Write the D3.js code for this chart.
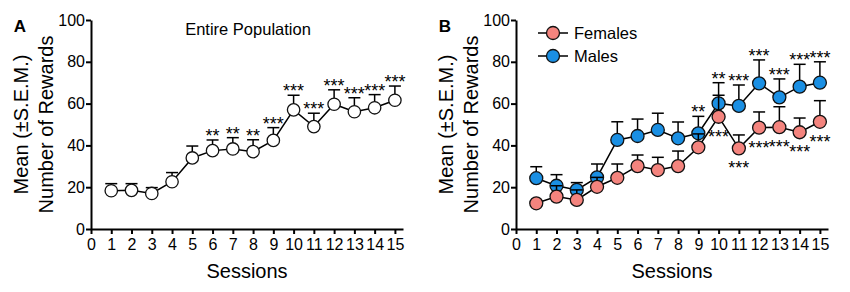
<!DOCTYPE html>
<html>
<head>
<meta charset="utf-8">
<script src="https://cdn.jsdelivr.net/npm/d3@7"></script>
<style>
  body { margin: 0; background: #fff; }
  svg { font-family: "Liberation Sans", Arial, sans-serif; }
  .axis path, .axis line { stroke: #000; stroke-width: 2; }
  .axis text { font-size: 16px; fill: #000; }
</style>
</head>
<body>
<svg id="chart" width="850" height="292"></svg>
<script>
// --- datos ---
const sessions = d3.range(1, 16);
const xTicks = d3.range(0, 16);
const yTicks = [0, 20, 40, 60, 80, 100];

// Panel A: toda la poblacion
const popMean = [18.3, 18.5, 17.0, 22.6, 34.0, 37.5, 38.3, 37.0, 42.4, 57.0, 49.0, 59.7, 56.1, 58.0, 61.6];
const popSem  = [3.4, 3.2, 2.8, 4.4, 5.7, 5.1, 5.4, 5.7, 6.1, 7.0, 6.4, 6.9, 6.7, 6.3, 6.8];
const popStars = ["", "", "", "", "", "**", "**", "**", "***", "***", "***", "***", "***", "***", "***"];

// Panel B: hembras y machos
const femMean = [12.3, 15.5, 13.9, 20.2, 24.5, 30.1, 28.2, 30.1, 39.1, 53.7, 38.6, 48.5, 48.7, 46.3, 51.3];
const femSem  = [1.2, 5.2, 4.8, 4.5, 6.6, 5.3, 6.1, 7.2, 6.4, 10.3, 6.4, 7.5, 9.8, 6.8, 10.1];
const femStars = ["", "", "", "", "", "", "", "", "", "***", "***", "***", "***", "***", "***"];

const maleMean = [24.3, 20.7, 18.7, 24.7, 42.6, 44.5, 47.4, 43.4, 45.8, 60.1, 58.9, 69.7, 63.0, 68.1, 70.0];
const maleSem  = [5.5, 5.3, 3.5, 6.4, 8.7, 8.1, 8.0, 7.8, 8.1, 9.9, 10.0, 11.2, 8.8, 10.7, 10.0];
const maleStars = ["", "", "", "", "", "", "", "", "**", "**", "***", "***", "***", "***", "***"];

const legendNames = ["Females", "Males"];
const femColor = "#f4847e";
const maleColor = "#1a8fe3";

const svg = d3.select("#chart");

function drawPanel(offsetX, letter) {
    const g = svg.append("g").attr("transform", `translate(${offsetX},0)`);

    const x = d3.scaleLinear().domain([0, 15.4]).range([91, 403]);
    const y = d3.scaleLinear().domain([0, 100]).range([229, 20]);

    // Eje X
    g.append("g")
        .attr("class", "axis")
        .attr("transform", `translate(0,${y(0)})`)
        .call(d3.axisBottom(x).tickValues(xTicks).tickSize(5).tickSizeOuter(0).tickPadding(5));

    // Eje Y
    g.append("g")
        .attr("class", "axis")
        .attr("transform", `translate(${x(0)},0)`)
        .call(d3.axisLeft(y).tickValues(yTicks).tickSize(5).tickSizeOuter(0).tickPadding(1));

    // titulos de ejes
    g.append("text")
        .attr("x", (x(0) + x(15.4)) / 2)
        .attr("y", 278)
        .attr("text-anchor", "middle")
        .style("font-size", "20px")
        .text("Sessions");

    const yMid = (y(0) + y(100)) / 2;
    g.append("text")
        .attr("transform", `translate(28,${yMid}) rotate(-90)`)
        .attr("text-anchor", "middle")
        .style("font-size", "20px")
        .text("Mean (±S.E.M.)");
    g.append("text")
        .attr("transform", `translate(53,${yMid}) rotate(-90)`)
        .attr("text-anchor", "middle")
        .style("font-size", "20px")
        .text("Number of Rewards");

    g.append("text")
        .attr("x", 20)
        .attr("y", 32)
        .attr("text-anchor", "middle")
        .style("font-size", "17px")
        .style("font-weight", "bold")
        .text(letter);

    return { g, x, y };
}

function drawSeries(p, means, sems, fill, r) {
    const pts = sessions.map((s, i) => ({ s, m: means[i], e: sems[i] }));

    // linea
    p.g.append("path")
        .datum(pts)
        .attr("fill", "none")
        .attr("stroke", "#000")
        .attr("stroke-width", 1.5)
        .attr("d", d3.line().x(d => p.x(d.s)).y(d => p.y(d.m)));

    // barras de error (solo hacia arriba)
    const eb = p.g.append("g").attr("stroke", "#000").attr("stroke-width", 1.5);
    eb.selectAll(".ev")
        .data(pts)
        .enter()
        .append("line")
        .attr("x1", d => p.x(d.s))
        .attr("x2", d => p.x(d.s))
        .attr("y1", d => p.y(d.m))
        .attr("y2", d => p.y(d.m + d.e));
    eb.selectAll(".ec")
        .data(pts)
        .enter()
        .append("line")
        .attr("x1", d => p.x(d.s) - 6)
        .attr("x2", d => p.x(d.s) + 6)
        .attr("y1", d => p.y(d.m + d.e))
        .attr("y2", d => p.y(d.m + d.e));

    // puntos
    p.g.selectAll(null)
        .data(pts)
        .enter()
        .append("circle")
        .attr("cx", d => p.x(d.s))
        .attr("cy", d => p.y(d.m))
        .attr("r", r)
        .attr("fill", fill)
        .attr("stroke", "#111")
        .attr("stroke-width", 1.3);
}

function drawStars(p, means, sems, stars, below) {
    p.g.selectAll(null)
        .data(sessions.map((s, i) => ({ s, m: means[i], e: sems[i], t: stars[i] })).filter(d => d.t))
        .enter()
        .append("text")
        .attr("x", d => p.x(d.s))
        .attr("y", d => below ? p.y(d.m) + 26 : p.y(d.m + d.e) + 2)
        .attr("text-anchor", "middle")
        .style("font-size", "18px")
        .text(d => d.t);
}

// --- Panel A ---
const pA = drawPanel(0, "A");
pA.g.append("text")
    .attr("x", 248)
    .attr("y", 35)
    .attr("text-anchor", "middle")
    .style("font-size", "16.5px")
    .text("Entire Population");
drawSeries(pA, popMean, popSem, "#fff", 6.2);
drawStars(pA, popMean, popSem, popStars, false);

// --- Panel B ---
const pB = drawPanel(425, "B");
drawSeries(pB, maleMean, maleSem, maleColor, 6.5);
drawSeries(pB, femMean, femSem, femColor, 6.5);
drawStars(pB, maleMean, maleSem, maleStars, false);
drawStars(pB, femMean, femSem, femStars, true);

// leyenda
const legend = pB.g.selectAll(".legend")
    .data(legendNames)
    .enter()
    .append("g")
    .attr("transform", (d, i) => `translate(128,${33 + i * 23})`);
legend.append("line")
    .attr("x1", -15).attr("x2", 15)
    .attr("stroke", "#000").attr("stroke-width", 1.5);
legend.append("circle")
    .attr("r", 6.5)
    .attr("fill", d => d === "Females" ? femColor : maleColor)
    .attr("stroke", "#111").attr("stroke-width", 1.3);
legend.append("text")
    .attr("x", 21)
    .attr("dy", "0.35em")
    .style("font-size", "16.5px")
    .text(d => d);
</script>
</body>
</html>
